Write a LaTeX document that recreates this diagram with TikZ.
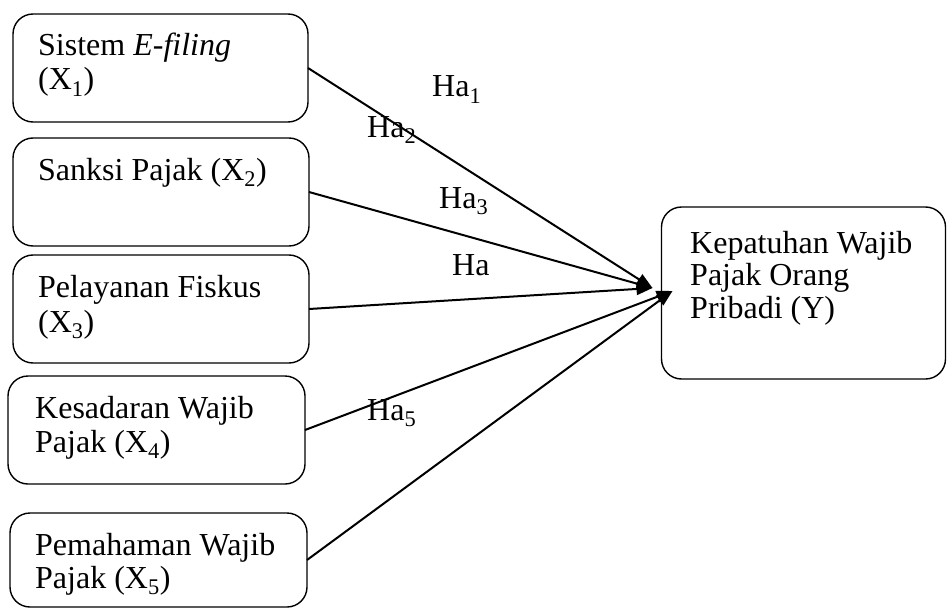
\documentclass[tikz,border=0pt]{standalone}
\usepackage{fontspec}
\setmainfont{Liberation Serif}
\usetikzlibrary{arrows.meta}
\tikzset{
  varbox/.style={draw, line width=1.4pt, rounded corners=20pt, inner sep=0pt, outer sep=0pt},
  txt/.style={anchor=base west, inner sep=0pt, font=\fontsize{32}{34}\selectfont},
  conn/.style={line width=2pt, -{Triangle[length=16pt,width=12pt]}},
}
\begin{document}
\begin{tikzpicture}[x=1pt,y=-1pt]
\useasboundingbox (0,0) rectangle (947,615);
% boxes
\node[varbox, minimum width=295pt, minimum height=108pt] (b1) at (160.5,68) {};
\node[varbox, minimum width=296pt, minimum height=108pt] (b2) at (161,192) {};
\node[varbox, minimum width=296pt, minimum height=108pt] (b3) at (161,309) {};
\node[varbox, minimum width=297pt, minimum height=108pt] (b4) at (156.5,430) {};
\node[varbox, minimum width=297pt, minimum height=94pt] (b5) at (158.5,560) {};
\node[varbox, minimum width=284pt, minimum height=172pt] (Y) at (803.5,293) {};
% box texts
\node[txt] (t1a) at (38,56) {Sistem \textit{E-filing}};
\node[txt] (t1b) at (38,90) {(X\textsubscript{1})};
\node[txt] (t2a) at (38,180) {Sanksi Pajak (X\textsubscript{2})};
\node[txt] (t3a) at (38,297) {Pelayanan Fiskus};
\node[txt] (t3b) at (38,332) {(X\textsubscript{3})};
\node[txt] (t4a) at (35,418) {Kesadaran Wajib};
\node[txt] (t4b) at (35,452) {Pajak (X\textsubscript{4})};
\node[txt] (t5a) at (35,555) {Pemahaman Wajib};
\node[txt] (t5b) at (35,588) {Pajak (X\textsubscript{5})};
\node[txt] (tya) at (690,253) {Kepatuhan Wajib};
\node[txt] (tyb) at (690,285) {Pajak Orang};
\node[txt] (tyc) at (690,318) {Pribadi (Y)};
% connectors
\draw[conn] (b1.east) -- ([shift={(-9,-5)}]Y.west);
\draw[conn] (b2.east) -- ([shift={(-9,-5)}]Y.west);
\draw[conn] (b3.east) -- ([shift={(-9,-5)}]Y.west);
\draw[conn] (b4.east) -- ([shift={(11,-2)}]Y.west);
\draw[conn] (b5.east) -- ([shift={(11,-2)}]Y.west);
% hypothesis labels
\node[txt] (h1) at (432,97) {Ha\textsubscript{1}};
\node[txt] (h2) at (367,137) {Ha\textsubscript{2}};
\node[txt] (h3) at (439,208) {Ha\textsubscript{3}};
\node[txt] (h4) at (452,275) {Ha};
\node[txt] (h5) at (367,420) {Ha\textsubscript{5}};
\end{tikzpicture}
\end{document}
